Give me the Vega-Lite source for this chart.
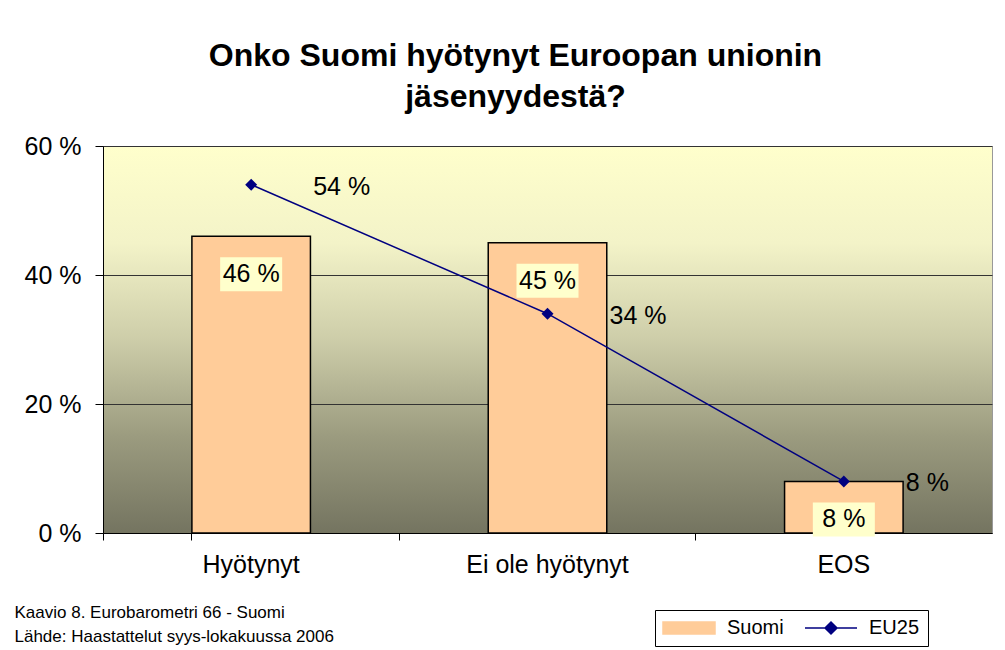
{
  "$schema": "https://vega.github.io/schema/vega-lite/v6.json",
  "width": 889,
  "height": 387,
  "autosize": {"type": "none"},
  "padding": {"left": 103, "top": 146, "right": 13, "bottom": 117},
  "background": "white",
  "title": {
    "text": ["Onko Suomi hyötynyt Euroopan unionin", "jäsenyydestä?"],
    "font": "Liberation Sans",
    "fontSize": 32,
    "fontWeight": "bold",
    "color": "black",
    "anchor": "middle",
    "dx": -32,
    "lineHeight": 41,
    "offset": 20
  },
  "config": {
    "font": "Liberation Sans",
    "view": {
      "stroke": "#999999",
      "fill": {
        "gradient": "linear",
        "x1": 0, "y1": 0, "x2": 0, "y2": 1,
        "stops": [
          {"offset": 0, "color": "#FFFFCC"},
          {"offset": 0.25, "color": "#F3F3C8"},
          {"offset": 0.5, "color": "#CDCDA9"},
          {"offset": 0.75, "color": "#9B9B7F"},
          {"offset": 1, "color": "#747460"}
        ]
      }
    },
    "legend": {
      "title": null,
      "orient": "none",
      "legendX": 552,
      "legendY": 464,
      "direction": "horizontal",
      "strokeColor": "black",
      "fillColor": "white",
      "padding": 8,
      "labelFont": "Liberation Sans",
      "labelFontSize": 20,
      "labelColor": "black",
      "labelOffset": 44,
      "columnPadding": 18,
      "symbolSize": 4,
      "symbolStrokeWidth": 1.5,
      "symbolStrokeColor": "black"
    }
  },
  "data": {
    "values": [
      {"category": "Hyötynyt", "Suomi": 46, "EU25": 54},
      {"category": "Ei ole hyötynyt", "Suomi": 45, "EU25": 34},
      {"category": "EOS", "Suomi": 8, "EU25": 8}
    ]
  },
  "encoding": {
    "x": {
      "field": "category",
      "type": "nominal",
      "sort": null,
      "scale": {"paddingInner": 0.6, "paddingOuter": 0.3},
      "axis": {
        "title": ["Kaavio 8. Eurobarometri 66 - Suomi", "Lähde: Haastattelut syys-lokakuussa 2006"],
        "titleFont": "Liberation Sans",
        "titleFontSize": 17,
        "titleFontWeight": "normal",
        "titleColor": "black",
        "titleAnchor": "start",
        "titleAlign": "left",
        "titleBaseline": "top",
        "titleX": -89,
        "titleY": 71,
        "titleLineHeight": 24,
        "labelAngle": 0,
        "labelFontSize": 25,
        "labelColor": "black",
        "labelPadding": 12,
        "bandPosition": -0.75,
        "tickExtra": true,
        "tickSize": 7,
        "tickColor": "black",
        "domainColor": "black",
        "grid": false
      }
    }
  },
  "layer": [
    {
      "mark": {"type": "bar", "stroke": "black", "strokeWidth": 1.5},
      "encoding": {
        "y": {
          "field": "Suomi",
          "type": "quantitative",
          "scale": {"domain": [0, 60], "nice": false},
          "axis": {
            "title": null,
            "values": [0, 20, 40, 60],
            "labelExpr": "datum.value + ' %'",
            "labelFontSize": 25,
            "labelColor": "black",
            "labelPadding": 14,
            "tickSize": 8,
            "tickColor": "black",
            "domainColor": "black",
            "grid": true,
            "gridColor": "#333333",
            "gridOpacity": 1
          }
        },
        "color": {
          "datum": "Suomi",
          "scale": {"domain": ["Suomi", "EU25"], "range": ["#FFCC99", "#000080"]},
          "legend": {
            "encode": {
              "symbols": {
                "update": {
                  "shape": {"signal": "datum.value === 'Suomi' ? 'M-10,-6H42V6H-10Z' : 'M-10,0H42M10,0L16,-6L22,0L16,6Z'"},
                  "fill": {"signal": "datum.value === 'Suomi' ? '#FFCC99' : '#000080'"},
                  "stroke": {"signal": "datum.value === 'Suomi' ? 'black' : '#000080'"},
                  "strokeWidth": {"value": 1.5},
                  "opacity": {"value": 1},
                  "fillOpacity": {"value": 1}
                }
              }
            }
          }
        }
      }
    },
    {
      "mark": {"type": "line", "strokeWidth": 1.5},
      "encoding": {
        "y": {"field": "EU25", "type": "quantitative"},
        "color": {
          "datum": "EU25",
          "legend": {
            "encode": {
              "symbols": {
                "update": {
                  "shape": {"signal": "datum.value === 'Suomi' ? 'M-10,-6H42V6H-10Z' : 'M-10,0H42M10,0L16,-6L22,0L16,6Z'"},
                  "fill": {"signal": "datum.value === 'Suomi' ? '#FFCC99' : '#000080'"},
                  "stroke": {"signal": "datum.value === 'Suomi' ? 'black' : '#000080'"},
                  "strokeWidth": {"value": 1.5},
                  "opacity": {"value": 1},
                  "fillOpacity": {"value": 1}
                }
              }
            }
          }
        }
      }
    },
    {
      "mark": {"type": "point", "shape": "diamond", "filled": true, "size": 144, "opacity": 1},
      "encoding": {
        "y": {"field": "EU25", "type": "quantitative"},
        "color": {
          "datum": "EU25",
          "legend": {
            "encode": {
              "symbols": {
                "update": {
                  "shape": {"signal": "datum.value === 'Suomi' ? 'M-10,-6H42V6H-10Z' : 'M-10,0H42M10,0L16,-6L22,0L16,6Z'"},
                  "fill": {"signal": "datum.value === 'Suomi' ? '#FFCC99' : '#000080'"},
                  "stroke": {"signal": "datum.value === 'Suomi' ? 'black' : '#000080'"},
                  "strokeWidth": {"value": 1.5},
                  "opacity": {"value": 1},
                  "fillOpacity": {"value": 1}
                }
              }
            }
          }
        }
      }
    },
    {
      "mark": {"type": "point", "shape": "M-31,21H31V55H-31Z", "filled": true, "size": 4, "opacity": 1, "color": "#FFFFCC"},
      "encoding": {
        "y": {"field": "Suomi", "type": "quantitative"}
      }
    },
    {
      "mark": {"type": "text", "fontSize": 25, "font": "Liberation Sans", "color": "black", "align": "center", "baseline": "middle", "dy": 38, "text": {"expr": "datum.Suomi + ' %'"}},
      "encoding": {
        "y": {"field": "Suomi", "type": "quantitative"}
      }
    },
    {
      "mark": {"type": "text", "fontSize": 25, "font": "Liberation Sans", "color": "black", "align": "left", "baseline": "middle", "dx": 62, "dy": 2, "text": {"expr": "datum.EU25 + ' %'"}},
      "encoding": {
        "y": {"field": "EU25", "type": "quantitative"}
      }
    }
  ]
}
